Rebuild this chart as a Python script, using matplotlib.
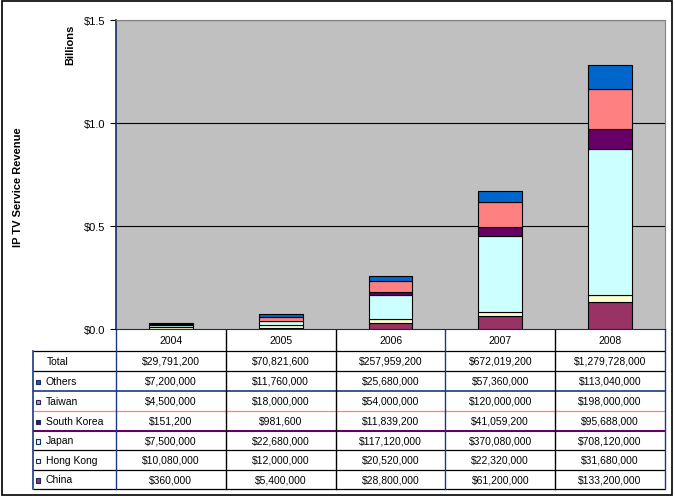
import matplotlib
matplotlib.use("Agg")
import matplotlib.pyplot as plt
import numpy as np

plt.rcParams['font.family'] = ['Liberation Sans', 'DejaVu Sans']

years = ["2004", "2005", "2006", "2007", "2008"]
series_names = ["China", "Hong Kong", "Japan", "South Korea", "Taiwan", "Others"]
china = [360000, 5400000, 28800000, 61200000, 133200000]
hong_kong = [10080000, 12000000, 20520000, 22320000, 31680000]
japan = [7500000, 22680000, 117120000, 370080000, 708120000]
south_korea = [151200, 981600, 11839200, 41059200, 95688000]
taiwan = [4500000, 18000000, 54000000, 120000000, 198000000]
others = [7200000, 11760000, 25680000, 57360000, 113040000]
totals = [29791200, 70821600, 257959200, 672019200, 1279728000]
colors = ["#993366", "#FFFFCC", "#CCFFFF", "#660066", "#FF8080", "#0066CC"]
yticks = [0.0, 0.5, 1.0, 1.5]

W, H = 675, 502
fig = plt.figure(figsize=(W / 100, H / 100), dpi=100)

# overlay for table and border (pixel coordinates)
ov = fig.add_axes([0, 0, 1, 1])
ov.set_xlim(0, W)
ov.set_ylim(H, 0)
ov.axis('off')

L, R, T, B = 116, 665, 21, 330
ax = fig.add_axes([L / W, (H - B) / H, (R - L) / W, (B - T) / H])
ax.set_facecolor("#C0C0C0")
data = [china, hong_kong, japan, south_korea, taiwan, others]
x = np.arange(len(years))
bottom = np.zeros(len(years))
for vals, c in zip(data, colors):
    v = np.array(vals) / 1e9
    ax.bar(x, v, 0.4, bottom=bottom, color=c, edgecolor='black', linewidth=0.8, zorder=3)
    bottom += v
ax.set_xlim(-0.5, len(years) - 0.5)
ax.set_ylim(0, 1.5)
ax.set_yticks(yticks)
ax.set_yticklabels(["$%.1f" % t for t in yticks], fontsize=8)
ax.tick_params(axis='y', length=4, width=0.8, pad=4)
ax.set_xticks([])
for t in yticks[1:]:
    ax.axhline(t, color='black', linewidth=0.8, zorder=1)
ax.spines['left'].set_color('#1a2a60')
ax.spines['left'].set_linewidth(1.2)
ax.spines['top'].set_color('#808080')
ax.spines['right'].set_color('#808080')
ax.spines['bottom'].set_color('#1a2a60')

fig.text(70 / W, 1 - 45 / H, "Billions", rotation=90, ha='center', va='center',
         fontsize=8, fontweight='bold')
fig.text(18 / W, 1 - 187 / H, "IP TV Service Revenue", rotation=90, ha='center',
         va='center', fontsize=8, fontweight='bold')

# outer border
ov.add_patch(plt.Rectangle((2, 2), W - 5, H - 8, fill=False, edgecolor='black', linewidth=1.2))

# table
col_edges = np.linspace(L, R, len(years) + 1)
row_edges = [330, 352, 372, 392, 412, 432, 451, 471, 490]
tab_left = 33
navy = '#1a3a80'
fs = 7.5
for i, yr in enumerate(years):
    ov.text((col_edges[i] + col_edges[i + 1]) / 2, (row_edges[0] + row_edges[1]) / 2, yr,
            ha='center', va='center', fontsize=fs)
rows = [("Total", totals, None)]
for name, vals, c in zip(series_names[::-1], data[::-1], colors[::-1]):
    rows.append((name, vals, c))
for r, (name, vals, c) in enumerate(rows):
    y0, y1 = row_edges[r + 1], row_edges[r + 2]
    ym = (y0 + y1) / 2
    if c is None:
        ov.text(47, ym, name, ha='left', va='center', fontsize=fs)
    else:
        ov.add_patch(plt.Rectangle((36, ym - 1.5), 4, 4.5, facecolor=c, edgecolor='#1a2a60', linewidth=0.8))
        ov.text(46, ym, name, ha='left', va='center', fontsize=fs)
    for i, v in enumerate(vals):
        ov.text((col_edges[i] + col_edges[i + 1]) / 2, ym, "${:,}".format(v),
                ha='center', va='center', fontsize=fs)

# horizontal lines
for k, y in enumerate(row_edges[1:]):
    lc = 'black'
    lw = 0.9
    if k == 2:
        lc, lw = navy, 1.2
    elif k == 3:
        lc = colors[4]
    elif k == 4:
        lc, lw = colors[3], 1.5
    ov.plot([tab_left, R], [y, y], color=lc, linewidth=lw, solid_capstyle='butt')
# vertical lines
ov.plot([tab_left, tab_left], [row_edges[1], row_edges[-1]], color=navy, linewidth=1.2)
for j, xe in enumerate(col_edges):
    ov.plot([xe, xe], [row_edges[0], row_edges[-1]],
            color=navy if j in (0, 3, len(col_edges) - 1) else 'black', linewidth=1.0)

fig.savefig("out.png", dpi=100)
